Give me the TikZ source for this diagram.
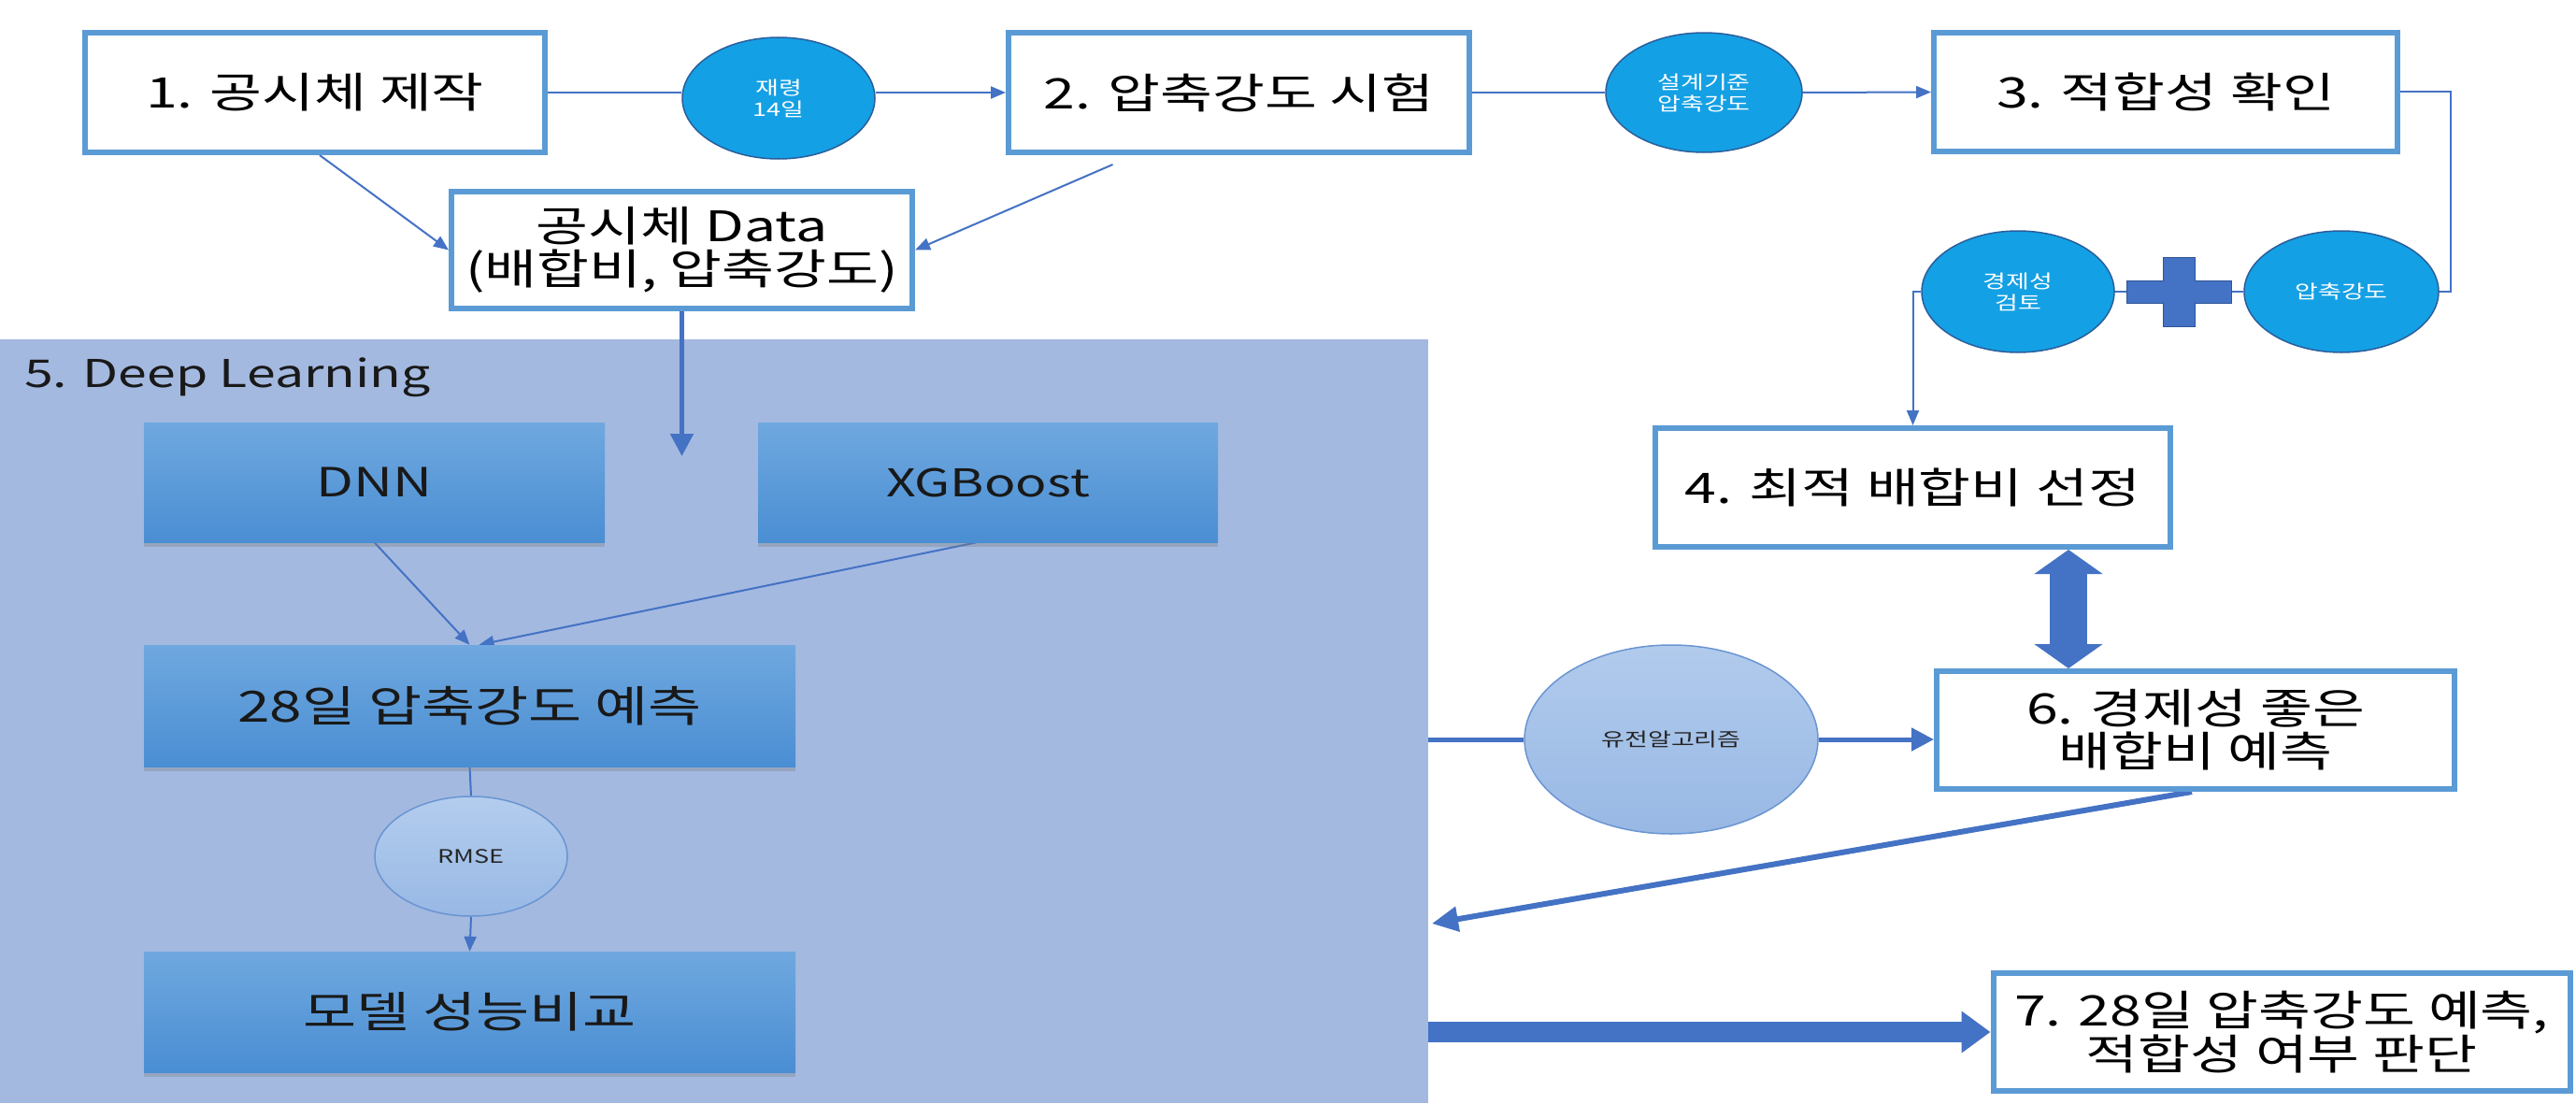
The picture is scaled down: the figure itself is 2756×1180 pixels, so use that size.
\documentclass[tikz,border=0pt]{standalone}
\usepackage{fontspec}
\setmainfont{Noto Sans CJK KR}[FakeStretch=1.35]
\usetikzlibrary{arrows.meta,shapes.geometric,shadows,calc}
\definecolor{bord}{HTML}{5B9BD5}
\definecolor{conn}{HTML}{4472C4}
\definecolor{connd}{HTML}{2F5597}
\definecolor{cyanc}{HTML}{14A0E4}
\definecolor{cyanb}{HTML}{2A5E9C}
\definecolor{dlbg}{HTML}{A3B9E0}
\definecolor{btop}{HTML}{6FA8DF}
\definecolor{bbot}{HTML}{4A8ED3}
\definecolor{rtop}{HTML}{B3CDEE}
\definecolor{rbot}{HTML}{98B8E4}
\definecolor{rbord}{HTML}{6A95D2}
\pgfdeclarelayer{bglayer}
\pgfdeclarelayer{linelayer}
\pgfsetlayers{bglayer,linelayer,main}
\begin{document}
\begin{tikzpicture}[x=1pt,y=-1pt,
  wbox/.style={draw=bord, line width=6pt, fill=white, inner sep=0pt, align=center, text=black,
    font=\fontsize{45}{46}\selectfont},
  cyc/.style={ellipse, draw=cyanb, line width=1.5pt, fill=cyanc, inner sep=0pt, text=white,
    align=center, font=\fontsize{20}{23}\selectfont},
  bbox/.style={inner sep=0pt, top color=btop, bottom color=bbot, draw=none, text=black!90,
    font=\fontsize{46}{48}\selectfont,
    drop shadow={shadow xshift=0pt, shadow yshift=-5pt, opacity=0.35}},
  softell/.style={ellipse, inner sep=0pt, top color=rtop, bottom color=rbot, draw=rbord,
    line width=1.5pt, text=black!85, font=\fontsize{20}{23}\selectfont},
  thinline/.style={draw=conn, line width=2pt},
  thinarr/.style={thinline, -{Triangle[length=16pt,width=13pt]}},
  thickline/.style={draw=conn, line width=5pt},
  thickarr/.style={thickline, -{Triangle[length=24pt,width=24pt]}},
]
\useasboundingbox (0,0) rectangle (2756,1180);
\begin{pgfonlayer}{bglayer}
\fill[white] (0,0) rectangle (2756,1180);
\node[fill=dlbg, minimum width=1528pt, minimum height=817pt, inner sep=0pt, anchor=north west] (dl) at (0,363) {};
\end{pgfonlayer}
\node[anchor=west, inner sep=0pt, font=\fontsize{41}{44}\selectfont, text=black!90] (dltitle) at (26,404) {5. Deep Learning};

% top row
\node[wbox, minimum width=492pt, minimum height=128pt] (b1) at (337,99) {1. 공시체 제작};
\node[wbox, minimum width=493pt, minimum height=128pt] (b2) at (1325.5,99) {2. 압축강도 시험};
\node[wbox, minimum width=496pt, minimum height=127pt] (b3) at (2317,98.5) {3. 적합성 확인};
\node[cyc, minimum width=206pt, minimum height=130pt] (c1) at (833,105) {재령\\14일};
\node[cyc, minimum width=210pt, minimum height=128pt] (c2) at (1823,99) {설계기준\\압축강도};

% data box
\node[wbox, minimum width=493pt, minimum height=125pt] (bd) at (729.5,267.5) {공시체 Data\\(배합비, 압축강도)};

% right column
\node[cyc, minimum width=206pt, minimum height=130pt] (c3) at (2159,312) {경제성\\검토};
\node[cyc, minimum width=208pt, minimum height=130pt] (c4) at (2505,312) {압축강도};
\node[wbox, minimum width=551pt, minimum height=127pt] (b4) at (2046.5,521.5) {4. 최적 배합비 선정};
\node[wbox, minimum width=554pt, minimum height=126pt] (b6) at (2349,781) {6. 경제성 좋은\\배합비 예측};
\node[wbox, minimum width=617pt, minimum height=126pt] (b7) at (2441,1104) {7. 28일 압축강도 예측,\\적합성 여부 판단};
\node[softell, minimum width=314pt, minimum height=202pt, top color=rtop!90!dlbg, bottom color=rbot] (ga) at (1788,791) {유전알고리즘};

% deep learning inner boxes
\node[bbox, minimum width=493pt, minimum height=128pt, font=\fontsize{43}{46}\selectfont] (dnn) at (400.5,516) {DNN};
\node[bbox, minimum width=492pt, minimum height=128pt, font=\fontsize{41}{46}\selectfont] (xgb) at (1057,516) {XGBoost};
\node[bbox, minimum width=697pt, minimum height=130pt] (p28) at (502.5,755) {28일 압축강도 예측};
\node[softell, minimum width=206pt, minimum height=128pt] (rmse) at (504,916) {RMSE};
\node[bbox, minimum width=697pt, minimum height=129pt] (model) at (502.5,1082.5) {모델 성능비교};

\coordinate (dlin) at (729.5,488);
\coordinate (dlret) at (1532,988);
\coordinate (pc) at ($(c3.east)!0.5!(c4.west)$);

% connectors
\begin{pgfonlayer}{linelayer}
\draw[thinline] (b1.east) -- (b1.east -| c1.west);
\draw[thinarr] (c1.east |- b2.west) -- (b2.west);
\draw[thinline] (b2.east) -- (c2.west);
\draw[thinarr] (c2.east) -- (b3.west);
\draw[thinline] (b3.east) -| ([xshift=12pt]c4.east) -- (c4.east);
\draw[thinline] (c3.east) -- (c4.west);
\draw[thinarr] (c3.west) -| (b4.north);
\draw[thinarr] ([xshift=5pt]b1.south) -- (bd.west);
\draw[thinarr] ([xshift=-135pt,yshift=-10pt]b2.south) -- (bd.east);
\draw[thickarr] (bd.south) -- (dlin);
\draw[thinarr] (dnn.south) -- (p28.north);
\draw[thinarr] ([xshift=-12pt]xgb.south) -- ([xshift=10pt]p28.north);
\draw[thinline] (p28.south) -- (rmse.north);
\draw[thinarr] (rmse.south) -- (model.north);
\draw[thickline] (dl.east |- ga.west) -- (ga.west);
\draw[thickarr] (ga.east) -- (b6.west |- ga.east);
\draw[draw=conn, line width=6pt, -{Triangle[length=28pt,width=26pt]}] ([xshift=-4pt]b6.south) -- (dlret);
\draw[draw=conn, line width=22pt, -{Triangle[length=31pt,width=43pt]}] (dl.east |- b7.west) -- (b7.west);
\draw[draw=conn, line width=40pt, {Triangle[length=26pt,width=72pt]}-{Triangle[length=26pt,width=72pt]}]
  ([xshift=166.5pt]b4.south) -- ([xshift=-136pt]b6.north);
\end{pgfonlayer}

% plus sign
\draw[draw=connd, fill=conn, line width=1pt]
  ($(pc)+(-56,-12)$) -- ++(39,0) -- ++(0,-25) -- ++(34,0) -- ++(0,25) -- ++(39,0)
  -- ++(0,24) -- ++(-39,0) -- ++(0,25) -- ++(-34,0) -- ++(0,-25) -- ++(-39,0) -- cycle;
\end{tikzpicture}
\end{document}
